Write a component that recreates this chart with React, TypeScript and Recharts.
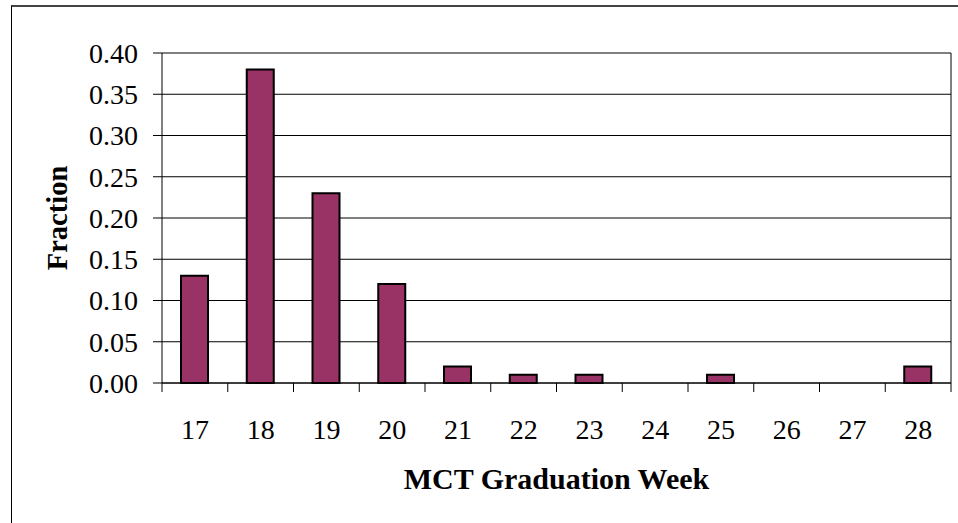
import { BarChart, Bar, XAxis, YAxis, CartesianGrid } from 'recharts'

const weeks = ['17', '18', '19', '20', '21', '22', '23', '24', '25', '26', '27', '28']
const fractions = [0.13, 0.38, 0.23, 0.12, 0.02, 0.01, 0.01, 0, 0.01, 0, 0, 0.02]
const yTicks = [0, 0.05, 0.1, 0.15, 0.2, 0.25, 0.3, 0.35, 0.4]

const data = weeks.map((week, i) => ({ week, fraction: fractions[i] }))

const font = '"Liberation Serif", "Times New Roman", serif'
const tickStyle = { fontFamily: font, fontSize: 28, fill: '#000' }

const TICK_LEN = 9
const LABEL_GAP = 36

// category label plus Excel-style tick marks on the category boundaries
function WeekTick(props: any) {
  const { x, y, payload, index, visibleTicksCount } = props
  const half = payload?.offset ?? 0
  const axisY = y - LABEL_GAP
  const isLast = index === visibleTicksCount - 1
  return (
    <g>
      <line x1={x - half} x2={x - half} y1={axisY} y2={axisY + TICK_LEN} stroke="#000" />
      {isLast && <line x1={x + half} x2={x + half} y1={axisY} y2={axisY + TICK_LEN} stroke="#000" />}
      <text x={x} y={y} dy="0.71em" textAnchor="middle" {...tickStyle}>
        {payload.value}
      </text>
    </g>
  )
}

export default function App() {
  return (
    <div style={{ position: 'absolute', left: 0, top: 0, width: 958, height: 523, overflow: 'hidden', background: '#fff' }}>
      {/* chart area frame */}
      <div
        style={{
          position: 'absolute',
          left: 11,
          top: 5,
          width: 960,
          height: 600,
          borderTop: '2px solid #444',
          borderLeft: '1px solid #000',
        }}
      />
      <BarChart
        width={958}
        height={523}
        data={data}
        margin={{ top: 53, right: 0, bottom: 0, left: 0 }}
        barSize={27}
        style={{ position: 'absolute', left: 0, top: 0 }}
      >
        <CartesianGrid horizontal vertical={false} stroke="#000" strokeWidth={1} />
        <XAxis
          dataKey="week"
          height={140}
          tickLine={false}
          axisLine={{ stroke: '#000' }}
          tick={<WeekTick />}
          tickSize={0}
          tickMargin={LABEL_GAP}
          interval={0}
          label={{
            value: 'MCT Graduation Week',
            position: 'insideBottom',
            offset: 34,
            style: { fontFamily: font, fontSize: 30, fontWeight: 'bold', fill: '#000' },
          }}
        />
        <YAxis
          domain={[0, 0.4]}
          ticks={yTicks}
          width={162}
          tick={tickStyle}
          tickSize={9}
          tickMargin={15}
          tickLine={{ stroke: '#000' }}
          axisLine={{ stroke: '#000' }}
          tickFormatter={(v: number) => v.toFixed(2)}
          label={{
            value: 'Fraction',
            angle: -90,
            position: 'insideLeft',
            offset: 57,
            style: { fontFamily: font, fontSize: 28.5, fontWeight: 'bold', fill: '#000', textAnchor: 'middle' },
          }}
        />
        <YAxis
          yAxisId="frame"
          orientation="right"
          domain={[0, 0.4]}
          width={7}
          tick={false}
          tickLine={false}
          axisLine={{ stroke: '#000' }}
          allowDataOverflow
        />
        <Bar dataKey="fraction" fill="#993366" stroke="#000" strokeWidth={2} isAnimationActive={false} />
      </BarChart>
    </div>
  )
}
